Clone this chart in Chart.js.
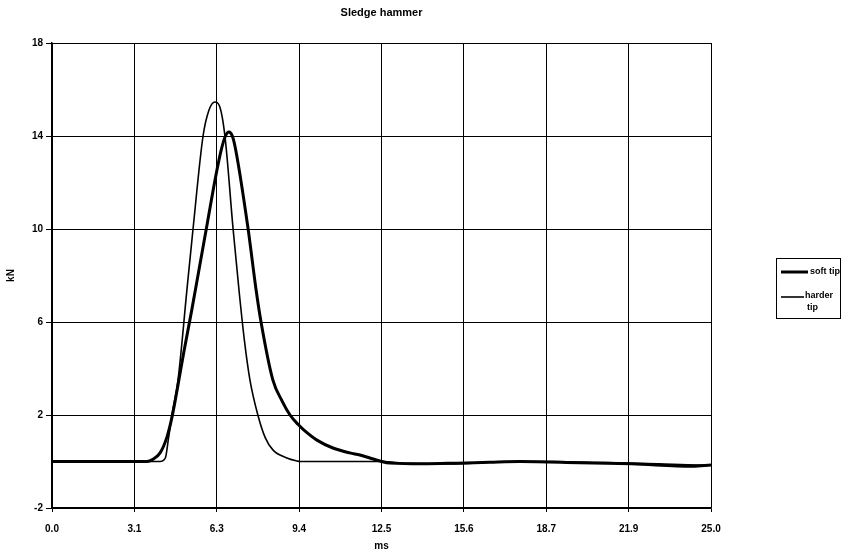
<!DOCTYPE html>
<html>
<head>
<meta charset="utf-8">
<script src="https://cdn.jsdelivr.net/npm/chart.js@4.4.0/dist/chart.umd.min.js"></script>
<style>
  html, body { margin: 0; padding: 0; background: #fff; }
  #wrap { width: 856px; height: 551px; }
</style>
</head>
<body>
<div id="wrap"><canvas id="c" width="856" height="551"></canvas></div>
<script>
// ---- data ----
const chartTitle = 'Sledge hammer';
const xTitle = 'ms';
const yTitle = 'kN';
const seriesNames = ['soft tip', 'harder tip'];

const xTickValues = [0, 3.125, 6.25, 9.375, 12.5, 15.625, 18.75, 21.875, 25];
const xTickLabels = ['0.0', '3.1', '6.3', '9.4', '12.5', '15.6', '18.7', '21.9', '25.0'];
const yTickValues = [-2, 2, 6, 10, 14, 18];

const softTime = [0, 3.6, 3.83, 4.1, 4.36, 4.55, 4.75, 5.0, 5.3, 5.6, 5.9, 6.2, 6.42, 6.58, 6.71, 6.84, 6.97, 7.44, 7.74, 7.93, 8.38, 8.73, 9.03, 9.33, 9.56, 10.05, 10.66, 11.3, 11.68, 12.06, 12.44, 12.82, 14.07, 15.36, 16.6, 17.75, 20, 22, 24.3, 25];
const softKN   = [0, 0, 0.1, 0.37, 1.05, 1.9, 3.1, 4.7, 6.5, 8.4, 10.3, 12.2, 13.4, 14.0, 14.17, 14.0, 13.4, 10, 7.4, 6, 3.5, 2.6, 2.0, 1.6, 1.35, 0.92, 0.58, 0.37, 0.28, 0.15, 0.02, -0.07, -0.1, -0.07, -0.03, 0, -0.05, -0.1, -0.2, -0.15];

const hardTime = [0, 4.1, 4.3, 4.42, 4.55, 4.78, 5.12, 5.35, 5.73, 5.95, 6.18, 6.35, 6.56, 6.87, 7.1, 7.3, 7.51, 7.81, 8.08, 8.38, 8.91, 9.3, 9.4, 12.5, 13.5, 15, 17, 19, 21, 23, 24.5, 25];
const hardKN   = [0, 0, 0.15, 1.0, 2.0, 3.5, 7.4, 10, 14, 15.1, 15.46, 15.3, 14, 10, 7.3, 5.2, 3.5, 2.0, 1.05, 0.5, 0.15, 0.02, 0, 0, -0.08, -0.1, -0.02, 0, -0.05, -0.1, -0.15, -0.15];

// ---- chart ----
const FONT = '"Liberation Sans", Arial, sans-serif';
const toPts = (xs, ys) => xs.map((x, i) => ({ x: x, y: ys[i] }));

const decor = {
  id: 'decor',
  afterDraw(chart) {
    const ctx = chart.ctx;
    const ca = chart.chartArea;
    ctx.save();
    ctx.fillStyle = '#000';
    // title
    ctx.font = 'bold 11px ' + FONT;
    ctx.textAlign = 'center';
    ctx.textBaseline = 'middle';
    ctx.fillText(chartTitle, (ca.left + ca.right) / 2, 13);
    // x title
    ctx.font = 'bold 10px ' + FONT;
    ctx.fillText(xTitle, (ca.left + ca.right) / 2, 546);
    // y title
    ctx.save();
    ctx.translate(11, (ca.top + ca.bottom) / 2);
    ctx.rotate(-Math.PI / 2);
    ctx.fillText(yTitle, 0, 0);
    ctx.restore();
    // legend
    const bx = 776, by = 258, bw = 64, bh = 60;
    ctx.strokeStyle = '#000';
    ctx.lineWidth = 1;
    ctx.strokeRect(bx + 0.5, by + 0.5, bw, bh);
    const ds = chart.data.datasets;
    ctx.textAlign = 'left';
    ctx.font = 'bold 9px ' + FONT;
    // soft tip
    ctx.lineWidth = ds[0].borderWidth;
    ctx.beginPath(); ctx.moveTo(bx + 5, 272); ctx.lineTo(bx + 32, 272); ctx.stroke();
    ctx.fillText(ds[0].label, bx + 34, 272);
    // harder tip
    ctx.lineWidth = ds[1].borderWidth;
    ctx.beginPath(); ctx.moveTo(bx + 5, 297); ctx.lineTo(bx + 28, 297); ctx.stroke();
    const parts = ds[1].label.split(' ');
    ctx.fillText(parts[0], bx + 29, 296);
    ctx.fillText(parts[1], bx + 31, 308);
    ctx.restore();
  }
};

new Chart(document.getElementById('c'), {
  type: 'line',
  data: {
    datasets: [
      {
        label: seriesNames[0],
        data: toPts(softTime, softKN),
        borderColor: '#000',
        borderWidth: 3,
        pointRadius: 0,
        cubicInterpolationMode: 'monotone',
        fill: false
      },
      {
        label: seriesNames[1],
        data: toPts(hardTime, hardKN),
        borderColor: '#000',
        borderWidth: 1.6,
        pointRadius: 0,
        cubicInterpolationMode: 'monotone',
        fill: false
      }
    ]
  },
  options: {
    responsive: false,
    animation: false,
    events: [],
    layout: { padding: { left: 0, top: 43, right: 145, bottom: 0 } },
    plugins: {
      legend: { display: false },
      title: { display: false },
      tooltip: { enabled: false }
    },
    scales: {
      x: {
        type: 'linear',
        min: 0,
        max: 25,
        afterBuildTicks: (s) => { s.ticks = xTickValues.map(v => ({ value: v })); },
        afterFit: (s) => { s.height = 43; },
        ticks: {
          autoSkip: false,
          maxRotation: 0,
          color: '#000',
          padding: 11,
          font: { family: FONT, size: 10, weight: 'bold' },
          callback: (v, i) => xTickLabels[i]
        },
        grid: { color: '#000', lineWidth: 1, tickLength: 4 },
        border: { color: '#000', width: 1.5 }
      },
      y: {
        type: 'linear',
        min: -2,
        max: 18,
        afterBuildTicks: (s) => { s.ticks = yTickValues.map(v => ({ value: v })); },
        afterFit: (s) => { s.width = 52; },
        ticks: {
          color: '#000',
          padding: 3,
          font: { family: FONT, size: 10, weight: 'bold' },
          callback: (v) => String(v)
        },
        grid: { color: '#000', lineWidth: 1, tickLength: 6 },
        border: { color: '#000', width: 1.5 }
      }
    }
  },
  plugins: [decor]
});
</script>
</body>
</html>
